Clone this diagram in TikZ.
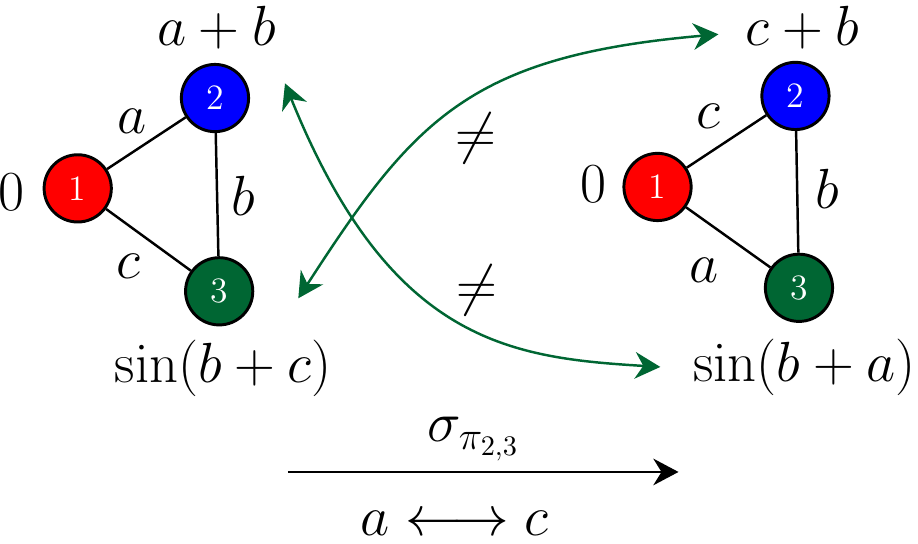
\documentclass[tikz,border=0pt]{standalone}
\usepackage{fix-cm}
\usepackage{amsmath,amssymb}
\usetikzlibrary{arrows.meta,positioning}
\definecolor{rouge}{HTML}{FF0000}
\definecolor{bleu}{HTML}{0000FF}
\definecolor{vert}{HTML}{006633}

\begin{document}
\begin{tikzpicture}[>={Stealth[length=3.6mm,width=3.8mm]}, font=\fontsize{23}{28}\selectfont,
    sommet/.style={circle, draw, line width=1.2pt, minimum size=0.96cm, inner sep=0pt, text=white, font=\fontsize{14.5}{17}\selectfont},
    arete/.style={line width=1pt},
    lien/.style={vert, <->, line width=1pt}]
  \useasboundingbox (0,0) rectangle (13.11,-7.76);
  % graphe de gauche
  \node[sommet, fill=rouge] (g1) at (1.11,-2.69) {1};
  \node[sommet, fill=bleu]  (g2) at (3.07,-1.40) {2};
  \node[sommet, fill=vert]  (g3) at (3.13,-4.16) {3};
  \draw[arete] (g1) -- (g2) (g2) -- (g3) (g1) -- (g3);
  \node (g1v) at (0.17,-2.75) {$0$};
  \node (g2v) at (3.09,-0.40) {$a+b$};
  \node (g3v) at (3.19,-5.26) {$\sin(b+c)$};
  \node (ga) at (1.89,-1.73) {$a$};
  \node (gb) at (3.47,-2.80) {$b$};
  \node (gc) at (1.84,-3.81) {$c$};
  % graphe de droite
  \node[sommet, fill=rouge] (d1) at (9.39,-2.67) {1};
  \node[sommet, fill=bleu]  (d2) at (11.36,-1.37) {2};
  \node[sommet, fill=vert]  (d3) at (11.41,-4.11) {3};
  \draw[arete] (d1) -- (d2) (d2) -- (d3) (d1) -- (d3);
  \node (d1v) at (8.47,-2.63) {$0$};
  \node (d2v) at (11.46,-0.39) {$c+b$};
  \node (d3v) at (11.49,-5.24) {$\sin(b+a)$};
  \node (dc) at (10.11,-1.66) {$c$};
  \node (db) at (11.81,-2.69) {$b$};
  \node (da) at (10.06,-3.86) {$a$};
  % correspondances
  \coordinate (p3) at (4.26,-4.26); \coordinate (q2) at (10.26,-0.49);
  \coordinate (p2) at (4.07,-1.19); \coordinate (q3) at (9.43,-5.24);
  \draw[lien] (p3) .. controls (5.91,-1.71) and (6.70,-0.80) .. (q2);
  \draw[lien] (p2) .. controls (5.57,-4.90) and (7.29,-5.11) .. (q3);
  \node (ne1) at (6.79,-1.97) {$\neq$};
  \node (ne2) at (6.81,-4.14) {$\neq$};
  % permutation
  \coordinate (s0) at (4.11,-6.74); \coordinate (s1) at (9.69,-6.74);
  \draw[->, line width=1.1pt] (s0) -- (s1);
  \node (sig) at (6.76,-6.27) {$\sigma_{\pi_{2,3}}$};
  \node (ech) at (6.49,-7.47) {$a \longleftrightarrow c$};
\end{tikzpicture}
\end{document}
